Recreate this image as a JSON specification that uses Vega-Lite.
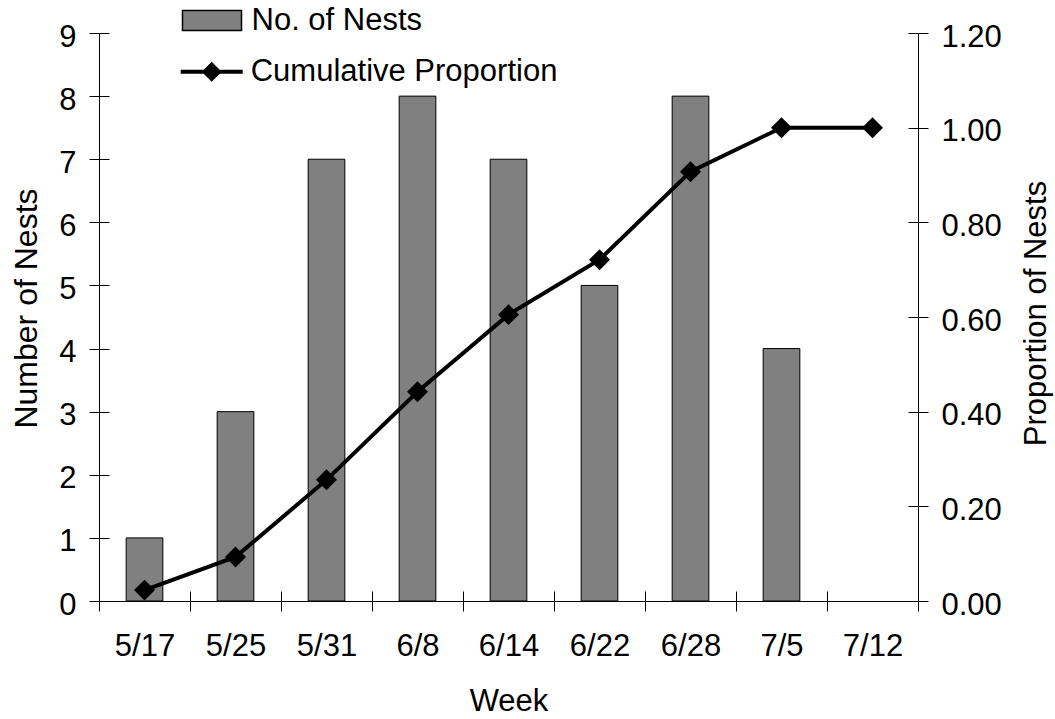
{
  "$schema": "https://vega.github.io/schema/vega-lite/v6.json",
  "width": 819,
  "height": 568,
  "autosize": {"type": "none"},
  "padding": {"left": 99, "top": 33, "right": 137, "bottom": 118},
  "config": {
    "font": "Liberation Sans",
    "view": {"stroke": null},
    "axis": {
      "domainColor": "black",
      "tickColor": "black",
      "labelColor": "black",
      "titleColor": "black",
      "labelFontSize": 31,
      "titleFontSize": 31,
      "titleFontWeight": "normal",
      "tickSize": 10,
      "gridColor": "black",
      "gridOpacity": 1,
      "gridWidth": 1
    },
    "legend": {
      "labelFontSize": 31,
      "labelColor": "black",
      "labelLimit": 0,
      "padding": 0
    }
  },
  "data": {
    "values": [
      {"week": "5/17", "nests": 1, "proportion": 0.023},
      {"week": "5/25", "nests": 3, "proportion": 0.093},
      {"week": "5/31", "nests": 7, "proportion": 0.256},
      {"week": "6/8", "nests": 8, "proportion": 0.442},
      {"week": "6/14", "nests": 7, "proportion": 0.605},
      {"week": "6/22", "nests": 5, "proportion": 0.721},
      {"week": "6/28", "nests": 8, "proportion": 0.907},
      {"week": "7/5", "nests": 4, "proportion": 1.0},
      {"week": "7/12", "nests": 0, "proportion": 1.0}
    ]
  },
  "encoding": {
    "x": {
      "field": "week",
      "type": "nominal",
      "sort": null,
      "scale": {"type": "band", "paddingInner": 0, "paddingOuter": 0},
      "axis": {
        "title": "Week",
        "labelAngle": 0,
        "labelPadding": 20,
        "tickBand": "extent",
        "grid": true,
        "gridDash": [0, 558, 10, 2000],
        "titleY": 109,
        "titleBaseline": "alphabetic"
      }
    }
  },
  "layer": [
    {
      "transform": [{"filter": "datum.nests > 0"}],
      "mark": {"type": "bar", "width": {"band": 0.403}, "stroke": "black", "strokeWidth": 1},
      "encoding": {
        "y": {
          "field": "nests",
          "type": "quantitative",
          "scale": {"domain": [0, 9], "nice": false},
          "axis": {
            "orient": "left",
            "title": "Number of Nests",
            "values": [0, 1, 2, 3, 4, 5, 6, 7, 8, 9],
            "labelPadding": 13,
            "labelOffset": 4,
            "grid": true,
            "gridDash": [10, 2000],
            "titleFontSize": 32,
            "titleAngle": 270,
            "titleAlign": "center",
            "titleBaseline": "alphabetic",
            "titleX": -63,
            "titleY": 275
          }
        },
        "fill": {
          "datum": "No. of Nests",
          "scale": {"range": ["#808080"]},
          "legend": {
            "title": null,
            "orient": "none",
            "legendX": 82.5,
            "legendY": -43,
            "symbolType": "M-1,-0.339H1V0.339H-1Z",
            "symbolSize": 3481,
            "labelOffset": 9,
            "encode": {
              "symbols": {
                "update": {
                  "fill": {"value": "#808080"},
                  "stroke": {"value": "black"},
                  "strokeWidth": {"value": 1}
                }
              }
            }
          }
        }
      }
    },
    {
      "encoding": {
        "y": {
          "field": "proportion",
          "type": "quantitative",
          "scale": {"domain": [0, 1.2], "nice": false},
          "axis": {
            "orient": "right",
            "title": "Proportion of Nests",
            "values": [0, 0.2, 0.4, 0.6, 0.8, 1.0, 1.2],
            "format": ".2f",
            "labelPadding": 13,
            "labelOffset": 4,
            "grid": true,
            "gridDash": [10, 2000],
            "titleAngle": 270,
            "titleAlign": "center",
            "titleBaseline": "alphabetic",
            "titleX": 127.5,
            "titleY": 280
          }
        }
      },
      "layer": [
        {
          "mark": {"type": "line", "strokeWidth": 4},
          "encoding": {
            "stroke": {
              "datum": "Cumulative Proportion",
              "scale": {"range": ["black"]},
              "legend": {
                "title": null,
                "orient": "none",
                "legendX": 81.7,
                "legendY": 7.7,
                "symbolType": "M-1,-0.065H1V0.065H-1Z M0,-0.323L0.323,0L0,0.323L-0.323,0Z",
                "symbolSize": 3844,
                "labelOffset": 8,
                "encode": {
                  "symbols": {
                    "update": {
                      "fill": {"value": "black"},
                      "stroke": {"value": "black"},
                      "strokeWidth": {"value": 0}
                    }
                  }
                }
              }
            }
          }
        },
        {
          "mark": {"type": "point", "shape": "diamond", "size": 440, "filled": true, "fill": "black", "opacity": 1},
          "encoding": {}
        }
      ]
    }
  ],
  "resolve": {"scale": {"y": "independent"}}
}
